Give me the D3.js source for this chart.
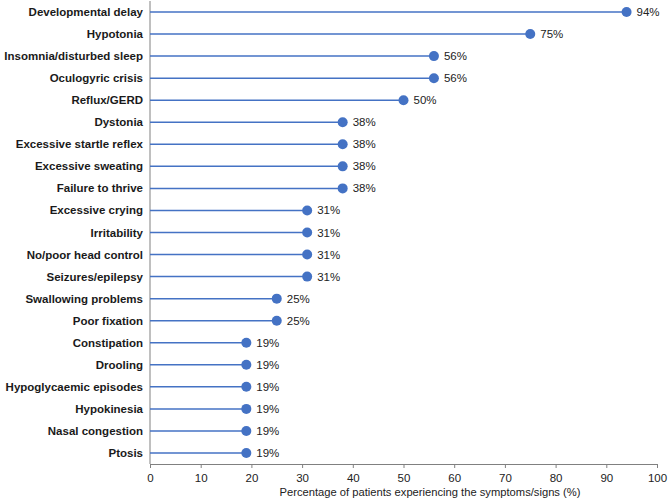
<!DOCTYPE html>
<html>
<head>
<meta charset="utf-8">
<script src="https://cdn.jsdelivr.net/npm/d3@7"></script>
<style>
  body { margin: 0; background: #fff; }
  text { font-family: "Liberation Sans", Arial, sans-serif; }
</style>
</head>
<body>
<div id="chart"></div>
<script>
const symptoms = [
  "Developmental delay", "Hypotonia", "Insomnia/disturbed sleep", "Oculogyric crisis",
  "Reflux/GERD", "Dystonia", "Excessive startle reflex", "Excessive sweating",
  "Failure to thrive", "Excessive crying", "Irritability", "No/poor head control",
  "Seizures/epilepsy", "Swallowing problems", "Poor fixation", "Constipation",
  "Drooling", "Hypoglycaemic episodes", "Hypokinesia", "Nasal congestion", "Ptosis"
];
const percents = [94, 75, 56, 56, 50, 38, 38, 38, 38, 31, 31, 31, 31, 25, 25, 19, 19, 19, 19, 19, 19];
const xTicks = [0, 10, 20, 30, 40, 50, 60, 70, 80, 90, 100];
const xTitle = "Percentage of patients experiencing the symptoms/signs (%)";

const width = 669;
const height = 502;
const margin = { top: 1, right: 12, bottom: 38, left: 150 };
const blue = "#4472C4";

const svg = d3.select("#chart")
  .append("svg")
  .attr("width", width)
  .attr("height", height);

const x = d3.scaleLinear()
  .domain([0, 100])
  .range([margin.left, width - margin.right]);

const y = d3.scaleBand()
  .domain(symptoms)
  .range([margin.top, height - margin.bottom])
  .paddingInner(0)
  .paddingOuter(0);

const rows = symptoms.map((s, i) => ({ name: s, value: percents[i] }));

// x axis
const xAxis = svg.append("g")
  .attr("transform", `translate(0, ${height - margin.bottom})`)
  .call(d3.axisBottom(x).tickValues(xTicks).tickSize(4).tickSizeOuter(0));
xAxis.select(".domain").attr("stroke", "#808080");
xAxis.selectAll(".tick line").attr("stroke", "#808080");
xAxis.selectAll(".tick text")
  .attr("dy", "0.95em")
  .style("font-size", "11.5px")
  .attr("fill", "#222");

svg.append("text")
  .attr("x", 430)
  .attr("y", height - 6)
  .attr("text-anchor", "middle")
  .style("font-size", "11.2px")
  .attr("fill", "#222")
  .text(xTitle);

// y axis line
svg.append("line")
  .attr("x1", x(0)).attr("x2", x(0))
  .attr("y1", margin.top).attr("y2", height - margin.bottom)
  .attr("stroke", "#808080");

// labels
svg.append("g")
  .selectAll("text")
  .data(rows)
  .enter()
  .append("text")
  .attr("x", x(0) - 7)
  .attr("y", d => y(d.name) + y.bandwidth() / 2)
  .attr("dy", "0.35em")
  .attr("text-anchor", "end")
  .style("font-size", "11.5px")
  .style("font-weight", "bold")
  .attr("fill", "#1a1a1a")
  .text(d => d.name);

const lolly = svg.append("g");

lolly.selectAll("line")
  .data(rows)
  .enter()
  .append("line")
  .attr("x1", x(0))
  .attr("x2", d => x(d.value))
  .attr("y1", d => y(d.name) + y.bandwidth() / 2)
  .attr("y2", d => y(d.name) + y.bandwidth() / 2)
  .attr("stroke", blue)
  .attr("stroke-width", 1.5);

lolly.selectAll("circle")
  .data(rows)
  .enter()
  .append("circle")
  .attr("cx", d => x(d.value))
  .attr("cy", d => y(d.name) + y.bandwidth() / 2)
  .attr("r", 5)
  .attr("fill", blue);

lolly.selectAll("text")
  .data(rows)
  .enter()
  .append("text")
  .attr("x", d => x(d.value) + 10)
  .attr("y", d => y(d.name) + y.bandwidth() / 2)
  .attr("dy", "0.35em")
  .style("font-size", "11.5px")
  .attr("fill", "#222")
  .text(d => d.value + "%");
</script>
</body>
</html>
